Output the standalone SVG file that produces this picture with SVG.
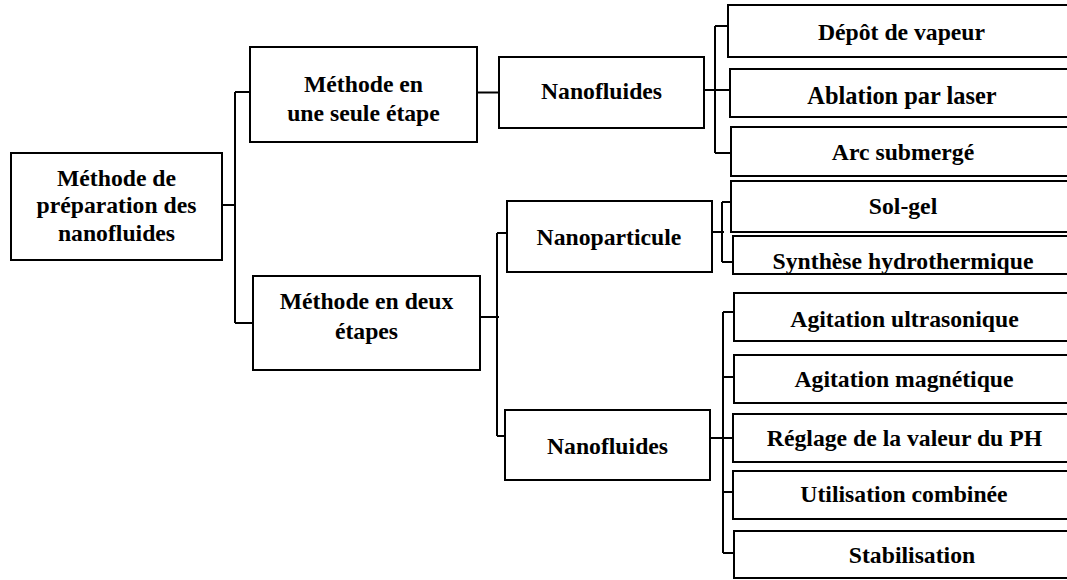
<svg xmlns="http://www.w3.org/2000/svg" width="1067" height="580" viewBox="0 0 1067 580">
<style>
.box{fill:#fff;stroke:#000;stroke-width:2}
.t{font-family:"Liberation Serif","Times New Roman",serif;font-weight:bold;font-size:23.7px;fill:#000;text-anchor:middle}
.c{fill:none;stroke:#000;stroke-width:2}
</style>
<rect width="1067" height="580" fill="#fff"/>
<g id="connectors">
<path class="c" d="M222,205 H235 M235,92 V323 M235,92 H250 M235,323 H253"/>
<path class="c" d="M477,92.5 H499"/>
<path class="c" d="M704,90 H730 M715,26 V153 M715,26 H729 M715,153 H731"/>
<path class="c" d="M480,317 H499 M497,233 V436 M497,233 H507 M497,436 H505"/>
<path class="c" d="M712,232 H724 M722,202 V262 M722,202 H731 M722,262 H733"/>
<path class="c" d="M710,438 H734 M723,312 V553 M723,312 H734 M723,377 H734 M723,492 H733 M723,553 H734"/>
</g>
<g id="root"><rect class="box" x="11" y="153" width="211" height="107"/>
<text class="t" x="116.5" y="186">Méthode de</text><text class="t" x="116.5" y="213">préparation des</text><text class="t" x="116.5" y="241">nanofluides</text></g>
<g id="m1"><rect class="box" x="250" y="47" width="227" height="95"/>
<text class="t" x="363.5" y="92">Méthode en</text><text class="t" x="363.5" y="121">une seule étape</text></g>
<g id="m2"><rect class="box" x="253" y="276" width="227" height="94"/>
<text class="t" x="366.5" y="309">Méthode en deux</text><text class="t" x="366.5" y="339">étapes</text></g>
<g id="nf1"><rect class="box" x="499" y="57" width="205" height="71"/><text class="t" x="601.5" y="99">Nanofluides</text></g>
<g id="np"><rect class="box" x="507" y="201" width="205" height="71"/><text class="t" x="609" y="245">Nanoparticule</text></g>
<g id="nf2"><rect class="box" x="505" y="410" width="205" height="70"/><text class="t" x="607.5" y="454">Nanofluides</text></g>
<g id="r1"><rect class="box" x="728" y="5" width="350" height="52"/><text class="t" x="901.5" y="40">Dépôt de vapeur</text></g>
<g id="r2"><rect class="box" x="730" y="69" width="350" height="48"/><text class="t" x="902" y="104" style="font-size:24.4px">Ablation par laser</text></g>
<g id="r3"><rect class="box" x="731" y="127" width="350" height="49"/><text class="t" x="903" y="159.5">Arc submergé</text></g>
<g id="r4"><rect class="box" x="731" y="181" width="350" height="51"/><text class="t" x="903" y="214">Sol-gel</text></g>
<g id="r5"><rect class="box" x="733" y="236" width="350" height="38"/><text class="t" x="903" y="269">Synthèse hydrothermique</text></g>
<g id="r6"><rect class="box" x="734" y="293" width="350" height="48"/><text class="t" x="904.5" y="327">Agitation ultrasonique</text></g>
<g id="r7"><rect class="box" x="734" y="355" width="350" height="48"/><text class="t" x="904" y="387">Agitation magnétique</text></g>
<g id="r8"><rect class="box" x="733" y="414" width="350" height="48"/><text class="t" x="904.5" y="446">Réglage de la valeur du PH</text></g>
<g id="r9"><rect class="box" x="733" y="471" width="350" height="48"/><text class="t" x="904" y="502">Utilisation combinée</text></g>
<g id="r10"><rect class="box" x="734" y="531" width="350" height="47"/><text class="t" x="912" y="563">Stabilisation</text></g>
</svg>
